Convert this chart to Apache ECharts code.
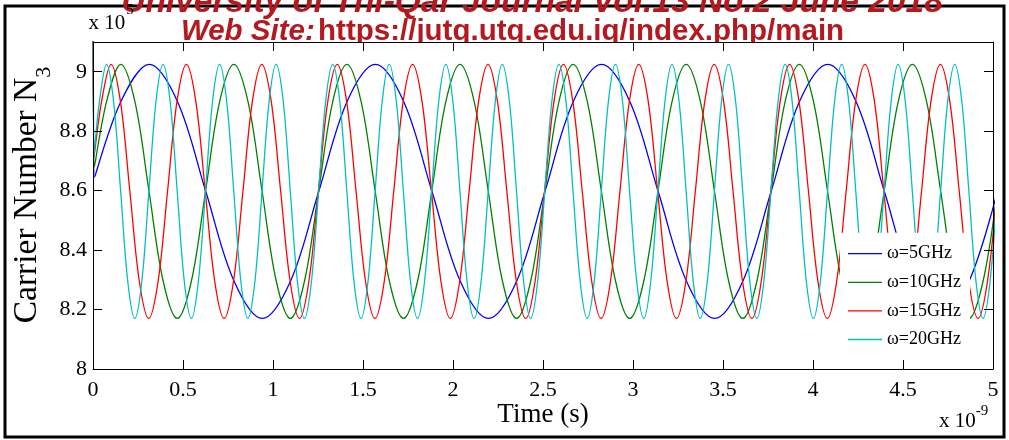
<!DOCTYPE html>
<html>
<head>
<meta charset="utf-8">
<script src="https://cdn.jsdelivr.net/npm/echarts@6/dist/echarts.min.js"></script>
<style>
  html, body { margin: 0; padding: 0; background: #fff; }
  #chart { width: 1009px; height: 440px; }
</style>
</head>
<body>
<div id="chart"></div>
<script>
// Carrier number N3 against time for four modulation frequencies.

const seriesNames = ['ω=5GHz', 'ω=10GHz', 'ω=15GHz', 'ω=20GHz'];
const seriesColors = ['#0000ff', '#008000', '#ff0000', '#00bfbf'];

// axis ranges (time in units of 1e-9 s, carrier number in units of 1e5)
const timeRange = [0, 5];
const timeTickStep = 0.5;
const carrierRange = [8, 9.1];
const carrierTickStep = 0.2;

// switch-on transient: every trace enters from above the plot at t = 0
const onset5 = [[0, 9.6], [0.009, 8.645]];
const onset10 = [[0, 9.6], [0.008, 8.68]];
const onset15 = [[0, 9.6], [0.005, 8.71]];
const onset20 = [[0, 9.6], [0.004, 8.71]];

// sampled traces: first sample time, sample spacing, values
const start5 = 0.155, step5 = 0.15708;
const n5 = [
  8.900, 9.025, 8.900, 8.598, 8.296, 8.170, 8.296, 8.598,
  8.900, 9.025, 8.900, 8.598, 8.296, 8.170, 8.296, 8.598,
  8.900, 9.025, 8.900, 8.598, 8.296, 8.170, 8.296, 8.598,
  8.900, 9.025, 8.900, 8.598, 8.296, 8.170, 8.296, 8.598
];

const start10 = 0.0755, step10 = 0.07854;
const n10 = [
  8.900, 9.025, 8.900, 8.598, 8.296, 8.170, 8.296, 8.598,
  8.900, 9.025, 8.900, 8.598, 8.296, 8.170, 8.296, 8.598,
  8.900, 9.025, 8.900, 8.598, 8.296, 8.170, 8.296, 8.598,
  8.900, 9.025, 8.900, 8.598, 8.296, 8.170, 8.296, 8.598,
  8.900, 9.025, 8.900, 8.598, 8.296, 8.170, 8.296, 8.598,
  8.900, 9.025, 8.900, 8.598, 8.296, 8.170, 8.296, 8.598,
  8.900, 9.025, 8.900, 8.598, 8.296, 8.170, 8.296, 8.598,
  8.900, 9.025, 8.900, 8.598, 8.296, 8.170, 8.296, 8.598
];

const start15 = 0.0477, step15 = 0.05236;
const n15 = [
  8.900, 9.025, 8.900, 8.598, 8.296, 8.170, 8.296, 8.598,
  8.900, 9.025, 8.900, 8.598, 8.296, 8.170, 8.296, 8.598,
  8.900, 9.025, 8.900, 8.598, 8.296, 8.170, 8.296, 8.598,
  8.900, 9.025, 8.900, 8.598, 8.296, 8.170, 8.296, 8.598,
  8.900, 9.025, 8.900, 8.598, 8.296, 8.170, 8.296, 8.598,
  8.900, 9.025, 8.900, 8.598, 8.296, 8.170, 8.296, 8.598,
  8.900, 9.025, 8.900, 8.598, 8.296, 8.170, 8.296, 8.598,
  8.900, 9.025, 8.900, 8.598, 8.296, 8.170, 8.296, 8.598,
  8.900, 9.025, 8.900, 8.598, 8.296, 8.170, 8.296, 8.598,
  8.900, 9.025, 8.900, 8.598, 8.296, 8.170, 8.296, 8.598,
  8.900, 9.025, 8.900, 8.598, 8.296, 8.170, 8.296, 8.598,
  8.900, 9.025, 8.900, 8.598, 8.296, 8.170, 8.296, 8.598
];

const start20 = 0.0358, step20 = 0.03927;
const n20 = [
  8.900, 9.025, 8.900, 8.598, 8.296, 8.170, 8.296, 8.598,
  8.900, 9.025, 8.900, 8.598, 8.296, 8.170, 8.296, 8.598,
  8.900, 9.025, 8.900, 8.598, 8.296, 8.170, 8.296, 8.598,
  8.900, 9.025, 8.900, 8.598, 8.296, 8.170, 8.296, 8.598,
  8.900, 9.025, 8.900, 8.598, 8.296, 8.170, 8.296, 8.598,
  8.900, 9.025, 8.900, 8.598, 8.296, 8.170, 8.296, 8.598,
  8.900, 9.025, 8.900, 8.598, 8.296, 8.170, 8.296, 8.598,
  8.900, 9.025, 8.900, 8.598, 8.296, 8.170, 8.296, 8.598,
  8.900, 9.025, 8.900, 8.598, 8.296, 8.170, 8.296, 8.598,
  8.900, 9.025, 8.900, 8.598, 8.296, 8.170, 8.296, 8.598,
  8.900, 9.025, 8.900, 8.598, 8.296, 8.170, 8.296, 8.598,
  8.900, 9.025, 8.900, 8.598, 8.296, 8.170, 8.296, 8.598,
  8.900, 9.025, 8.900, 8.598, 8.296, 8.170, 8.296, 8.598,
  8.900, 9.025, 8.900, 8.598, 8.296, 8.170, 8.296, 8.598,
  8.900, 9.025, 8.900, 8.598, 8.296, 8.170, 8.296, 8.598,
  8.900, 9.025, 8.900, 8.598, 8.296, 8.170, 8.296, 8.598
];

function trace(onset, start, step, values) {
  return onset.concat(values.map((v, i) => [+(start + i * step).toFixed(5), v]));
}

const traces = [
  trace(onset5, start5, step5, n5),
  trace(onset10, start10, step10, n10),
  trace(onset15, start15, step15, n15),
  trace(onset20, start20, step20, n20)
];

const SERIF = 'Liberation Serif, Times New Roman, serif';
const SANS = '"Liberation Sans", Arial, sans-serif';
const HEADER_RED = '#b3191e';

const chart = echarts.init(document.getElementById('chart'), null, { renderer: 'canvas' });

function timeAxis(position, showLabels) {
  return {
    type: 'value',
    gridIndex: 0,
    position: position,
    min: timeRange[0],
    max: timeRange[1],
    interval: timeTickStep,
    z: 3,
    axisLine: { show: true, onZero: false, lineStyle: { color: '#000', width: 1 } },
    axisTick: { show: true, inside: true, length: 9, lineStyle: { color: '#000', width: 1 } },
    axisLabel: {
      show: showLabels, color: '#000', fontFamily: SERIF, fontSize: 22, margin: 10,
      showMinLabel: true, showMaxLabel: true
    },
    splitLine: { show: false }
  };
}

function carrierAxis(position, showLabels) {
  return {
    type: 'value',
    gridIndex: 0,
    position: position,
    min: carrierRange[0],
    max: carrierRange[1],
    interval: carrierTickStep,
    z: 3,
    axisLine: { show: true, onZero: false, lineStyle: { color: '#000', width: 1 } },
    axisTick: { show: true, inside: true, length: 9, lineStyle: { color: '#000', width: 1 } },
    axisLabel: {
      show: showLabels, color: '#000', fontFamily: SERIF, fontSize: 22, margin: 6,
      showMinLabel: true, showMaxLabel: false
    },
    splitLine: { show: false }
  };
}

const xBottom = Object.assign(timeAxis('bottom', true), {
  name: 'Time (s)',
  nameLocation: 'middle',
  nameGap: 32,
  nameMoveOverlap: false,
  nameTextStyle: { color: '#000', fontFamily: SERIF, fontSize: 27 }
});
const xTop = timeAxis('top', false);
const yLeft = carrierAxis('left', true);
const yRight = carrierAxis('right', false);

const option = {
  animation: false,
  backgroundColor: '#fff',
  grid: {
    left: 93, top: 42, width: 900, height: 327,
    show: true, backgroundColor: '#fff', borderWidth: 0, z: 1,
    containLabel: false, outerBoundsMode: 'none'
  },
  xAxis: [xBottom, xTop],
  yAxis: [yLeft, yRight],
  legend: {
    data: seriesNames,
    orient: 'vertical',
    left: 840,
    top: 232.7,
    padding: [12, 9, 8, 8],
    itemWidth: 34,
    itemHeight: 18,
    itemGap: 10.6,
    icon: 'path://M0,0H34V1.3H0Z',
    backgroundColor: '#fff',
    borderWidth: 0,
    selectedMode: false,
    z: 4,
    textStyle: { color: '#000', fontFamily: SERIF, fontSize: 18 }
  },
  series: seriesNames.map((name, i) => ({
    name: name,
    type: 'line',
    xAxisIndex: 0,
    yAxisIndex: 0,
    data: traces[i],
    smooth: 0.35,
    symbol: 'none',
    clip: true,
    z: 2,
    lineStyle: { color: seriesColors[i], width: 1.3 },
    itemStyle: { color: seriesColors[i] },
    emphasis: { disabled: true }
  })),
  graphic: [
    {
      type: 'rect', z: 0, silent: true,
      shape: { x: 5, y: 6, width: 999, height: 431 },
      style: { fill: 'none', stroke: '#000', lineWidth: 3 }
    },
    {
      type: 'text', z: 0, silent: true,
      x: 532, y: 2.5,
      style: {
        text: 'University of Thi-Qar Journal Vol.13 No.2 June 2018',
        fill: HEADER_RED, font: 'italic bold 33.5px ' + SANS,
        align: 'center', verticalAlign: 'middle'
      }
    },
    {
      type: 'text', z: 0, silent: true,
      x: 512.5, y: 32.3,
      style: {
        text: '{i|Web Site:} {b|https://jutq.utq.edu.iq/index.php/main}',
        align: 'center', verticalAlign: 'middle',
        rich: {
          i: { fill: HEADER_RED, fontFamily: SANS, fontSize: 29.5, fontWeight: 'bold', fontStyle: 'italic' },
          b: { fill: HEADER_RED, fontFamily: SANS, fontSize: 29.5, fontWeight: 'bold' }
        }
      }
    },
    {
      // y-axis title with subscript
      type: 'text', z: 5, silent: true,
      x: 27.5, y: 195, rotation: Math.PI / 2,
      style: {
        text: '{m|Carrier Number N}{s|3}',
        align: 'center', verticalAlign: 'middle',
        rich: {
          m: { fill: '#000', fontFamily: SERIF, fontSize: 33.5, lineHeight: 56 },
          s: { fill: '#000', fontFamily: SERIF, fontSize: 22, lineHeight: 22, padding: [33.6, 0, 0, 0] }
        }
      }
    },
    {
      type: 'text', z: 5, silent: true,
      x: 88.5, y: 9.2,
      style: {
        text: '{b|x 10}{s|5}',
        align: 'left', verticalAlign: 'top',
        rich: {
          b: { fill: '#000', fontFamily: SERIF, fontSize: 21, lineHeight: 28 },
          s: { fill: '#000', fontFamily: SERIF, fontSize: 15, lineHeight: 15, padding: [0, 0, 26.6, 1] }
        }
      }
    },
    {
      type: 'text', z: 5, silent: true,
      x: 939, y: 406.5,
      style: {
        text: '{b|x 10}{s|-9}',
        align: 'left', verticalAlign: 'top',
        rich: {
          b: { fill: '#000', fontFamily: SERIF, fontSize: 21, lineHeight: 30 },
          s: { fill: '#000', fontFamily: SERIF, fontSize: 15, lineHeight: 15, padding: [0, 0, 21, 0] }
        }
      }
    }
  ]
};

chart.setOption(option);
</script>
</body>
</html>
